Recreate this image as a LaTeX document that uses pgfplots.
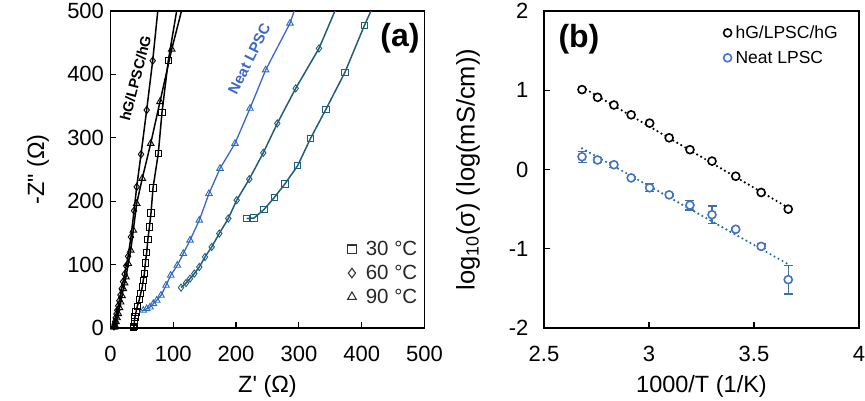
\documentclass[border=0pt]{standalone}
\usepackage{pgfplots}
\pgfplotsset{compat=1.18}
\usepackage{fontspec}
\setmainfont{Liberation Sans}[Ligatures=TeXOff]
\definecolor{nblue}{HTML}{3A66D0}
\definecolor{nbluem}{HTML}{2E6DB4}
\definecolor{nteal}{HTML}{1F5F7A}
\definecolor{bblue}{HTML}{4472C4}
\definecolor{btrend}{HTML}{1F6E9E}
\definecolor{berr}{HTML}{3D7398}
\begin{document}
\begin{tikzpicture}
\useasboundingbox (0pt,0pt) rectangle (865pt,-400pt);
\pgfplotsset{
 common/.style={
  scale only axis, anchor=south west, clip=true,
  axis line style={line width=1.8pt},
  tick style={black, line width=1.2pt}, tick align=inside, major tick length=6pt,
  xtick pos=bottom, ytick pos=left,
  /pgf/number format/assume math mode=true,
  tick label style={font=\fontsize{22}{22}\selectfont},
  label style={font=\fontsize{23.5}{23.5}\selectfont},
  xticklabel style={anchor=base, yshift=-33pt},
  xlabel style={at={(axis description cs:0.5,-0.202)}, anchor=base},
 }
}
% ---------------- panel (a)
\begin{axis}[common, at={(110.5pt,-328pt)}, width=314pt, height=317pt,
  xmin=0, xmax=500, ymin=0, ymax=500,
  xtick={0,100,...,500}, ytick={0,100,...,500},
  yticklabel style={anchor=east, xshift=-3pt},
  xlabel={Z' (Ω)}, ylabel={-Z" (Ω)},
  ylabel style={at={(axis description cs:-0.231,0.5)}, anchor=center},
  legend image code/.code={\draw[mark repeat=1,mark phase=1,#1] plot coordinates {(0pt,0pt)};},
  legend style={draw=none, fill=none, at={(rel axis cs:0.745,0.285)}, anchor=north west,
    font=\fontsize{20.5}{20.5}\selectfont, text=black!85, row sep=5pt,
    nodes={inner sep=1.5pt}, /tikz/every odd column/.append style={column sep=8pt}},
  legend cell align=left,
]
% black 60 C diamonds
\addplot[black, line width=1.5pt, forget plot] coordinates {(5.6,2.5)(6.5,6)(7.3,10)(8.3,16)(9.5,22)(10.8,28)(12.3,35)(14,43)(15.8,52)(17.8,62)(20,73)(22.5,85)(25,98)(28,113)(32.6,143.6)(37.5,185)(41.7,222.6)(48.6,274)(57.6,343.8)(67.2,421.6)(75.8,505)};
% black 90 C triangles
\addplot[black, line width=1.5pt, forget plot] coordinates {(6,1)(7.2,4)(8.7,10)(10.5,16)(12.4,22.6)(14.3,32)(16.2,40.9)(18.3,51)(20.4,62)(22.5,71)(24.7,80.4)(28.3,101.6)(32.2,122.6)(36.3,154.2)(41.7,196.4)(50.6,235.9)(64,291)(78.8,356.9)(97.5,439.7)(114.3,505)};
% black 30 C squares
\addplot[black, line width=1.5pt, forget plot] coordinates {(37,0.5)(37.4,2.5)(37.9,9.3)(39,17.2)(40.6,25.1)(42.7,34.1)(45.9,44.7)(48,54.2)(50.6,64.6)(52.2,75.2)(53.9,85.8)(55.5,102.5)(57.6,119)(59.5,140)(62,159.4)(64.5,181.5)(67.7,221)(76.1,275.3)(82,340)(92,421.6)(106.2,505)};
% neat 90 C triangles
\addplot[nblue, line width=1.3pt, forget plot] coordinates {(50,26.5)(52.2,27.8)(57.6,30.5)(62.9,33)(68.2,38.4)(73.6,43.6)(80.4,51.5)(88.4,67.3)(95.9,83.1)(106.4,98.9)(115.9,117.4)(126.6,138.4)(141.4,170)(156.8,212)(174.4,251.7)(198.2,291)(222.1,346.4)(247.1,407)(285.8,480.7)(294.3,505)};
% neat 60 C diamonds
\addplot[nteal, line width=1.5pt, forget plot] coordinates {(112.3,63.7)(120.2,70.9)(126.6,77.9)(133.5,85.8)(141.4,96.2)(150.5,112)(161.1,127.8)(173.2,149)(187.6,172.7)(200.9,201.6)(221,234.8)(243.3,276.3)(265.6,322.7)(294.9,378)(332,441)(359.5,505)};
% neat 30 C squares
\addplot[nteal, line width=1.5pt, forget plot] coordinates {(216.9,172.7)(228.5,173.5)(244.4,186.9)(260.6,205.5)(277.5,227)(298,256)(318.5,299)(343,345)(373.4,403.5)(404.2,477)(417,505)};
% markers
\addplot[only marks, mark=diamond, mark size=3.6pt, mark options={draw=black, fill=white, line width=0.9pt}, forget plot] coordinates {(5.6,2.5)(6.5,6)(7.3,10)(8.3,16)(9.5,22)(10.8,28)(12.3,35)(14,43)(15.8,52)(17.8,62)(20,73)(22.5,85)(25,98)(28,113)(32.6,143.6)(37.5,185)(41.7,222.6)(48.6,274)(57.6,343.8)(67.2,421.6)};
\addplot[only marks, mark=triangle, mark size=3.8pt, mark options={draw=black, fill=white, line width=0.9pt}, forget plot] coordinates {(6,1)(7.2,4)(8.7,10)(10.5,16)(12.4,22.6)(14.3,32)(16.2,40.9)(18.3,51)(20.4,62)(22.5,71)(24.7,80.4)(28.3,101.6)(32.2,122.6)(36.3,154.2)(41.7,196.4)(50.6,235.9)(64,291)(78.8,356.9)(97.5,439.7)};
\addplot[only marks, mark=square, mark size=3.2pt, mark options={draw=black, fill=white, line width=0.9pt}, forget plot] coordinates {(37,0.5)(37.4,2.5)(37.9,9.3)(39,17.2)(40.6,25.1)(42.7,34.1)(45.9,44.7)(48,54.2)(50.6,64.6)(52.2,75.2)(53.9,85.8)(55.5,102.5)(57.6,119)(59.5,140)(62,159.4)(64.5,181.5)(67.7,221)(76.1,275.3)(82,340)(92,421.6)};
\addplot[only marks, mark=triangle, mark size=3.8pt, mark options={draw=nbluem, fill=white, line width=0.9pt}, forget plot] coordinates {(52.2,27.8)(57.6,30.5)(62.9,33)(68.2,38.4)(73.6,43.6)(80.4,51.5)(88.4,67.3)(95.9,83.1)(106.4,98.9)(115.9,117.4)(126.6,138.4)(141.4,170)(156.8,212)(174.4,251.7)(198.2,291)(222.1,346.4)(247.1,407)(285.8,480.7)};
\addplot[only marks, mark=diamond, mark size=3.6pt, mark options={draw=nteal, fill=white, line width=0.9pt}, forget plot] coordinates {(112.3,63.7)(120.2,70.9)(126.6,77.9)(133.5,85.8)(141.4,96.2)(150.5,112)(161.1,127.8)(173.2,149)(187.6,172.7)(200.9,201.6)(221,234.8)(243.3,276.3)(265.6,322.7)(294.9,378)(332,441)};
\addplot[only marks, mark=square, mark size=3.2pt, mark options={draw=nteal, fill=white, line width=0.9pt}, forget plot] coordinates {(216.9,172.7)(228.5,173.5)(244.4,186.9)(260.6,205.5)(277.5,227)(298,256)(318.5,299)(343,345)(373.4,403.5)(404.2,477)};
% legend
\addlegendimage{only marks, mark=square, mark size=4.3pt, mark options={draw=black!80, fill=white, line width=1.1pt}}
\addlegendentry{30 °C}
\addlegendimage{only marks, mark=diamond, mark size=4.8pt, mark options={draw=black!80, fill=white, line width=1.1pt}}
\addlegendentry{60 °C}
\addlegendimage{only marks, mark=triangle, mark size=5pt, mark options={draw=black!80, fill=white, line width=1.1pt}}
\addlegendentry{90 °C}
% annotations
\node[font=\fontsize{32}{32}\selectfont\bfseries] at (rel axis cs:0.922,0.915) {(a)};
\node[font=\fontsize{14.5}{14.5}\selectfont\bfseries, rotate=75.5] at (axis cs:40,394) {hG/LPSC/hG};
\node[font=\fontsize{15}{15}\selectfont\bfseries, rotate=63.4, text=nblue] at (axis cs:221,425) {Neat LPSC};
\end{axis}
% ---------------- panel (b)
\begin{axis}[common, at={(544pt,-328pt)}, width=315pt, height=317pt,
  xmin=2.5, xmax=4, ymin=-2, ymax=2,
  xtick={2.5,3,3.5,4}, ytick={-2,-1,0,1,2},
  yticklabel style={anchor=east, xshift=-12pt},
  xlabel={1000/T (1/K)}, ylabel={log\textsubscript{10}(σ) (log(mS/cm))},
  ylabel style={at={(axis description cs:-0.241,0.5)}, anchor=center, font=\fontsize{25.5}{25.5}\selectfont},
  legend image code/.code={\draw[mark repeat=1,mark phase=1,#1] plot coordinates {(0pt,0pt)};},
  legend style={draw=none, fill=none, at={(rel axis cs:0.56,0.965)}, anchor=north west,
    font=\fontsize{17.5}{17.5}\selectfont, row sep=8pt,
    nodes={inner sep=1.5pt}, /tikz/every odd column/.append style={column sep=2.5pt}},
  legend cell align=left,
]
\addplot[black, line width=2.4pt, line cap=round, dash pattern=on 0pt off 4.6pt, forget plot] coordinates {(2.681,1.04)(3.663,-0.483)};
\addplot[btrend, line width=2.4pt, line cap=round, dash pattern=on 0pt off 4.6pt, forget plot] coordinates {(2.681,0.267)(3.663,-1.195)};
\addplot[only marks, mark=*, mark size=4pt, mark options={draw=black, fill=white, line width=1.6pt}] coordinates {(2.681,1.008)(2.755,0.911)(2.833,0.814)(2.915,0.69)(3.003,0.585)(3.096,0.40)(3.195,0.25)(3.300,0.106)(3.413,-0.085)(3.534,-0.29)(3.663,-0.50)};
\addlegendentry{hG/LPSC/hG}
\addplot[only marks, mark=*, mark size=4pt, mark options={draw=bblue, fill=white, line width=1.6pt},
  error bars/.cd, y dir=both, y explicit, error bar style={color=berr, line width=1.2pt},
  error mark options={rotate=90, mark size=4.5pt, color=berr, line width=1.2pt}]
  coordinates {(2.681,0.161) +- (0,0.07) (2.755,0.12) +- (0,0.03) (2.833,0.06) +- (0,0.03) (2.915,-0.106) +- (0,0.02) (3.003,-0.23) +- (0,0.05) (3.096,-0.32) +- (0,0.02) (3.195,-0.45) +- (0,0.06) (3.300,-0.57) +- (0,0.11) (3.413,-0.754) +- (0,0.02) (3.534,-0.97) +- (0,0.03) (3.663,-1.39) +- (0,0.18)};
\addlegendentry{Neat LPSC}
\node[font=\fontsize{32}{32}\selectfont\bfseries] at (rel axis cs:0.111,0.912) {(b)};
\end{axis}
\end{tikzpicture}
\end{document}
